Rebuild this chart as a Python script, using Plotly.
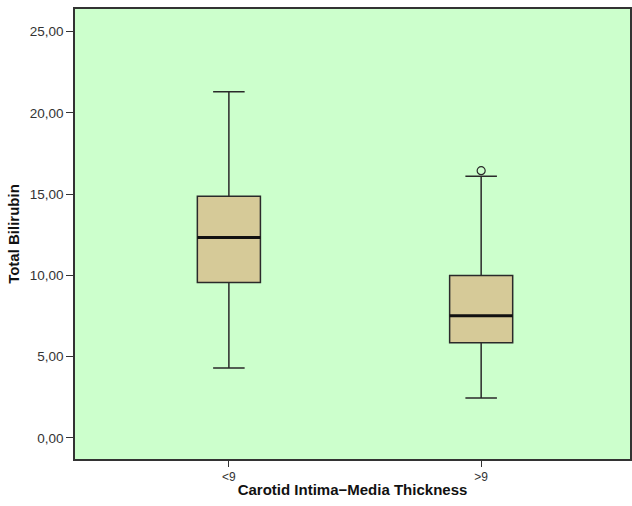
import plotly.graph_objects as go

categories = ["<9", ">9"]
lower_whisker = [4.3, 2.45]
q1_vals = [9.57, 5.85]
medians = [12.33, 7.52]
q3_vals = [14.88, 10.0]
upper_whisker = [21.3, 16.1]
outlier_x = [">9"]
outlier_y = [16.45]

box_width = 0.25
xpos = list(range(len(categories)))
fill = "#d6ca98"
line_c = "#2a2a2a"

fig = go.Figure()
fig.add_trace(go.Box(
    x=xpos, q1=q1_vals, median=medians, q3=q3_vals,
    lowerfence=lower_whisker, upperfence=upper_whisker,
    width=box_width, whiskerwidth=0.5,
    fillcolor=fill, line=dict(color=line_c, width=1.5),
    boxpoints=False, showlegend=False, hoverinfo="skip",
))
# thick median lines
for i, m in zip(xpos, medians):
    fig.add_trace(go.Scatter(
        x=[i - box_width / 2, i + box_width / 2], y=[m, m],
        mode="lines", line=dict(color="#111111", width=3),
        showlegend=False, hoverinfo="skip",
    ))
fig.add_trace(go.Scatter(
    x=[categories.index(c) for c in outlier_x], y=outlier_y,
    mode="markers",
    marker=dict(symbol="circle-open", size=8, color=line_c, line=dict(width=1.2)),
    showlegend=False, hoverinfo="skip",
))

fig.update_layout(
    width=632, height=506,
    margin=dict(l=75, r=0, t=9, b=47),
    paper_bgcolor="white", plot_bgcolor="#ccffcc",
    separators=",.",
    font=dict(family="Liberation Sans, Arial", size=13, color="#333333"),
    xaxis=dict(
        range=[-0.61, 1.59], tickvals=xpos, ticktext=categories,
        showgrid=False, zeroline=False,
        showline=True, linecolor="#333333", linewidth=1.5, mirror=True,
        ticks="outside", ticklen=6, tickcolor="#333333",
        tickfont=dict(size=12),
        title=dict(text="<b>Carotid Intima\u2212Media Thickness</b>", font=dict(size=15, color="#111111"), standoff=1),
    ),
    yaxis=dict(
        range=[-1.3, 26.4], tickvals=[0, 5, 10, 15, 20, 25], tickformat=".2f",
        showgrid=False, zeroline=False,
        showline=True, linecolor="#333333", linewidth=1.5, mirror=True,
        ticks="outside", ticklen=7, tickcolor="#333333",
        tickfont=dict(size=13.5),
        title=dict(text="<b>Total Bilirubin</b>", font=dict(size=15, color="#111111"), standoff=7),
    ),
)

fig.write_html(
    "out.html",
    config={"displayModeBar": False},
    post_script="document.body.style.margin='0';document.body.style.overflow='hidden';",
)
